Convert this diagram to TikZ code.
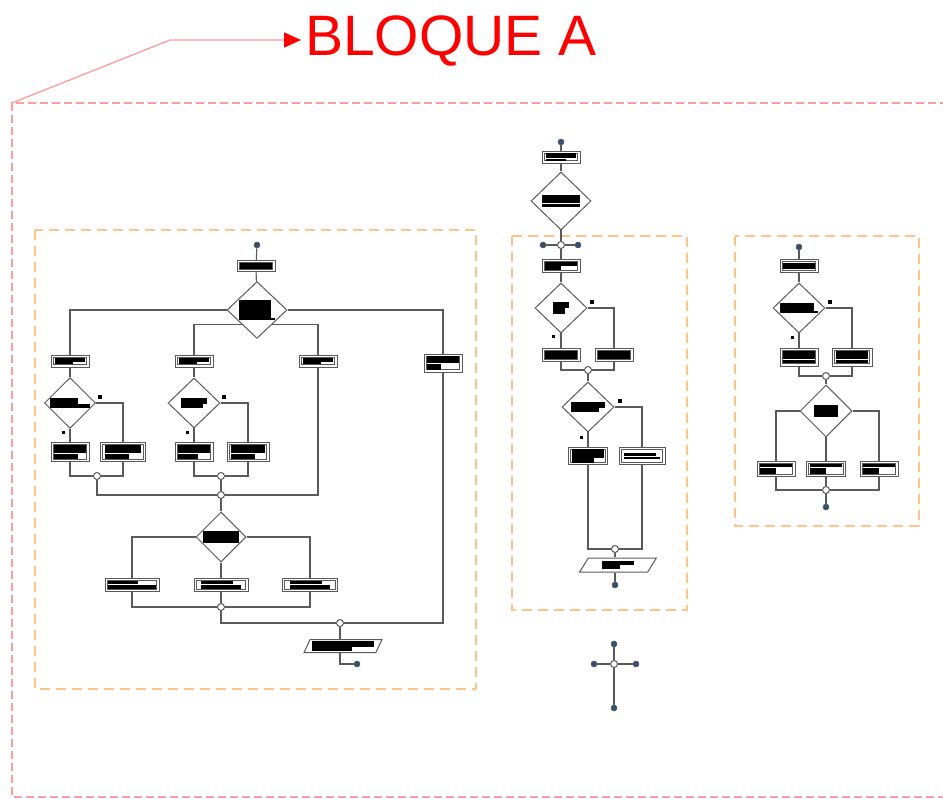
\documentclass[tikz,border=0pt]{standalone}
\usepackage{fontspec}
\setmainfont{Liberation Sans}
\usetikzlibrary{shapes.geometric,arrows.meta}
\definecolor{lineGray}{HTML}{5A5A5A}
\definecolor{dotBlue}{HTML}{34506E}
\definecolor{boxOrange}{HTML}{FFC48A}
\definecolor{boxRed}{HTML}{FF9C9C}
\newcommand\rd[2]{\vbox{\hrule width #1pt height #2pt}}
\newcommand\rdd[4]{\vbox{\hrule width #1pt height #2pt\vskip0.8pt\hrule width #3pt height #4pt}}
\tikzset{
  ln/.style={draw=lineGray, line width=1.1pt},
  proc/.style args={#1x#2}{draw=lineGray, line width=0.9pt, fill=white,
     rectangle, inner sep=0pt, minimum width=#1pt, minimum height=#2pt,
     path picture={\draw[lineGray, line width=0.7pt]
        ([shift={(2.2pt,2.2pt)}]path picture bounding box.south west) rectangle
        ([shift={(-2.2pt,-2.2pt)}]path picture bounding box.north east);}},
  dia/.style args={#1x#2}{shape=diamond, draw=lineGray, line width=1pt, fill=white, inner sep=0pt,
     minimum width=#1pt, minimum height=#2pt},
  iobox/.style args={#1x#2}{trapezium, trapezium left angle=62, trapezium right angle=118, trapezium stretches=true,
     draw=lineGray, line width=1pt, fill=white, inner sep=0pt, minimum width=#1pt, minimum height=#2pt},
  term/.style={circle, fill=dotBlue, draw=lineGray, line width=0.5pt, inner sep=0pt, minimum size=6pt},
  jn/.style={circle, fill=white, draw=lineGray, line width=1pt, inner sep=0pt, minimum size=7pt},
  lbl/.style={fill=black, inner sep=0pt, minimum width=4pt, minimum height=3.5pt},
  lbls/.style={fill=black, inner sep=0pt, minimum width=3pt, minimum height=3pt},
  obox/.style={draw=boxOrange, line width=1.6pt, dash pattern=on 10pt off 6pt},
  rbox/.style={draw=boxRed, line width=1.4pt, dash pattern=on 8pt off 4pt},
}
\begin{document}
\begin{tikzpicture}[x=1pt,y=-1pt]
\useasboundingbox (0,0) rectangle (943,799);
\clip (0,0) rectangle (943,799);
\fill[white] (0,0) rectangle (943,799);

% outer red block
\draw[rbox] (960,103) -- (12,103) -- (12,797) -- (960,797);
\coordinate (ra) at (12,103);
\coordinate (rb) at (170,40);
\coordinate (rc) at (301,40);
\draw[draw=boxRed, line width=1.3pt, -{Triangle[length=17pt,width=15pt,color=red]}] (ra) -- (rb) -- (rc);
\node[anchor=base west, inner sep=0pt, text=red, font=\fontsize{57}{60}\selectfont] (title) at (305,56) {BLOQUE A};

% orange boxes
\draw[obox] (35,230) rectangle (476,689);
\draw[obox] (512,236) rectangle (687,610);
\draw[obox] (735,236) rectangle (919,526);

% ================= LEFT CHART =================
\node[term] (s1) at (257,245) {};
\node[proc=38x11] (p1) at (256,266) {\rd{32}{6}\hspace{2pt}};
\node[dia=60x56] (d1) at (257,310) {\rdd{32}{18}{36}{2}\hspace{2pt}};
\node[proc=38x12] (a1) at (70,361) {\rdd{30}{4}{18}{2}\hspace{4pt}};
\node[proc=38x12] (b1) at (194,361) {\rdd{30}{4}{18}{2}\hspace{4pt}};
\node[proc=38x12] (c1) at (318,361) {\rdd{30}{4}{18}{2}\hspace{2pt}};
\node[proc=38x18] (e1) at (443,363) {\rdd{32}{7}{14}{6}\hspace{2pt}};
\node[dia=51x50] (a2) at (70,403) {\rdd{28}{6}{40}{4}};
\node[dia=52x50] (b2) at (194,403) {\rdd{26}{6}{22}{4}};
\node[proc=38x19] (a3) at (70,452) {\rdd{32}{8}{24}{5}\hspace{2pt}};
\node[proc=45x19] (a3b) at (123,452) {\rdd{36}{8}{24}{5}\hspace{4pt}};
\node[proc=38x19] (b3) at (194,452) {\rdd{32}{8}{20}{5}\hspace{2pt}};
\node[proc=42x19] (b3b) at (248,452) {\rdd{34}{8}{24}{5}\hspace{4pt}};
\node[jn] (ja) at (97,476) {};
\node[jn] (jb) at (221,476) {};
\node[jn] (jm) at (221,495) {};
\node[dia=50x50] (d3) at (221,537) {\rdd{36}{9}{36}{3}};
\node[proc=54x13] (f1) at (132,585) {\rdd{30}{3}{48}{4}};
\node[proc=54x13] (f2) at (221,585) {\rdd{32}{3}{40}{4}\hspace{6pt}};
\node[proc=55x13] (f3) at (310,585) {\rdd{32}{3}{40}{4}\hspace{6pt}};
\node[jn] (jf) at (221,607) {};
\node[jn] (jo) at (340,623) {};
\node[iobox=78x13] (io1) at (343,646) {\rdd{62}{6}{40}{4}};
\node[term] (e1end) at (357,664) {};
\node[lbl] at (100,397) {};
\node[lbls] at (63,433) {};
\node[lbl] at (224,397) {};
\node[lbls] at (187,433) {};

\draw[ln] (s1) -- (p1);
\draw[ln] (p1) -- (d1);
\draw[ln] (d1.west) -| (a1.north);
\draw[ln] (d1.south west) -| (b1.north);
\draw[ln] (d1.south east) -| (c1.north);
\draw[ln] (d1.east) -| (e1.north);
\draw[ln] (a1) -- (a2);
\draw[ln] (b1) -- (b2);
\draw[ln] (a2.south) -- (a3.north);
\draw[ln] (b2.south) -- (b3.north);
\draw[ln] (a2.east) -| (a3b.north);
\draw[ln] (b2.east) -| (b3b.north);
\draw[ln] (a3.south) |- (ja.west);
\draw[ln] (a3b.south) |- (ja.east);
\draw[ln] (b3.south) |- (jb.west);
\draw[ln] (b3b.south) |- (jb.east);
\draw[ln] (ja.south) |- (jm.west);
\draw[ln] (jb) -- (jm);
\draw[ln] (c1.south) |- (jm.east);
\draw[ln] (jm) -- (d3);
\draw[ln] (d3.west) -| (f1.north);
\draw[ln] (d3.south) -- (f2.north);
\draw[ln] (d3.east) -| (f3.north);
\draw[ln] (f1.south) |- (jf.west);
\draw[ln] (f2) -- (jf);
\draw[ln] (f3.south) |- (jf.east);
\draw[ln] (jf.south) |- (jo.west);
\draw[ln] (e1.south) |- (jo.east);
\draw[ln] (jo.south) -- (jo.south |- io1.north);
\draw[ln] (io1.south -| jo) |- (e1end.west);

% ================= MIDDLE CHART =================
\node[term] (s2) at (561,142) {};
\node[proc=38x12] (m1) at (561,157) {\rdd{30}{5}{20}{2}\hspace{2pt}};
\node[dia=60x58] (md1) at (561,201) {\rdd{38}{8}{38}{3}};
\node[jn] (jc) at (561,245) {};
\node[term] (sl) at (543,245) {};
\node[term] (sr) at (578,245) {};
\node[proc=38x13] (m2) at (561,266) {\rdd{32}{4}{16}{4}};
\node[dia=52x50] (md2) at (561,308) {\rdd{16}{6}{12}{6}};
\node[proc=38x13] (m3) at (561,355) {\rd{32}{8}\hspace{1pt}};
\node[proc=38x13] (m3b) at (614,355) {\rd{32}{8}};
\node[jn] (jm2) at (588,370) {};
\node[dia=52x50] (md3) at (588,407) {\rdd{34}{6}{28}{4}};
\node[proc=39x17] (m4) at (588,456) {\rdd{32}{9}{22}{5}\hspace{2pt}};
\node[proc=46x17] (m4b) at (642,456) {\rdd{32}{3}{36}{2}};
\node[jn] (jm3) at (615,549) {};
\node[iobox=77x14] (io2) at (618,565) {\rdd{32}{4}{18}{4}};
\node[term] (e2) at (615,585) {};
\node[lbl] at (592,302) {};
\node[lbls] at (553,337) {};
\node[lbl] at (620,401) {};
\node[lbls] at (581,438) {};

\draw[ln] (s2) -- (m1);
\draw[ln] (m1) -- (md1);
\draw[ln] (md1) -- (jc);
\draw[ln] (sl) -- (jc);
\draw[ln] (jc) -- (sr);
\draw[ln] (jc) -- (m2);
\draw[ln] (m2) -- (md2);
\draw[ln] (md2.south) -- (m3.north);
\draw[ln] (md2.east) -| (m3b.north);
\draw[ln] (m3.south) |- (jm2.west);
\draw[ln] (m3b.south) |- (jm2.east);
\draw[ln] (jm2) -- (md3);
\draw[ln] (md3.south) -- (m4.north);
\draw[ln] (md3.east) -| (m4b.north);
\draw[ln] (m4.south) |- (jm3.west);
\draw[ln] (m4b.south) |- (jm3.east);
\draw[ln] (jm3.south) -- (jm3.south |- io2.north);
\draw[ln] (io2.south -| e2) -- (e2);

% ================= CROSS =================
\node[jn] (cc) at (614,664) {};
\node[term] (ct) at (614,644) {};
\node[term] (cl) at (594,664) {};
\node[term] (cr) at (636,664) {};
\node[term] (cb) at (614,708) {};
\draw[ln] (ct) -- (cc);
\draw[ln] (cc) -- (cb);
\draw[ln] (cl) -- (cc);
\draw[ln] (cc) -- (cr);

% ================= RIGHT CHART =================
\node[term] (s3) at (799,247) {};
\node[proc=38x13] (r1) at (799,266) {\rd{32}{6}};
\node[dia=52x50] (rd1) at (799,308) {\rdd{34}{8}{38}{2}};
\node[proc=38x18] (r2) at (799,357) {\rdd{32}{8}{32}{3}\hspace{1pt}};
\node[proc=40x18] (r2b) at (852,357) {\rdd{32}{8}{32}{3}\hspace{1pt}};
\node[jn] (jr1) at (826,376) {};
\node[dia=52x52] (rd2) at (826,411) {\rd{24}{12}};
\node[proc=38x15] (r3) at (776,469) {\rdd{32}{3}{16}{6}};
\node[proc=39x15] (r3m) at (826,469) {\rdd{32}{3}{16}{6}};
\node[proc=38x15] (r3r) at (879,469) {\rdd{32}{3}{16}{6}};
\node[jn] (jr2) at (826,490) {};
\node[term] (e3) at (826,507) {};
\node[lbl] at (830,302) {};
\node[lbls] at (792,338) {};

\draw[ln] (s3) -- (r1);
\draw[ln] (r1) -- (rd1);
\draw[ln] (rd1.south) -- (r2.north);
\draw[ln] (rd1.east) -| (r2b.north);
\draw[ln] (r2.south) |- (jr1.west);
\draw[ln] (r2b.south) |- (jr1.east);
\draw[ln] (jr1) -- (rd2);
\draw[ln] (rd2.west) -| (r3.north);
\draw[ln] (rd2.south) -- (r3m.north);
\draw[ln] (rd2.east) -| (r3r.north);
\draw[ln] (r3.south) |- (jr2.west);
\draw[ln] (r3m) -- (jr2);
\draw[ln] (r3r.south) |- (jr2.east);
\draw[ln] (jr2) -- (e3);
\end{tikzpicture}
\end{document}
